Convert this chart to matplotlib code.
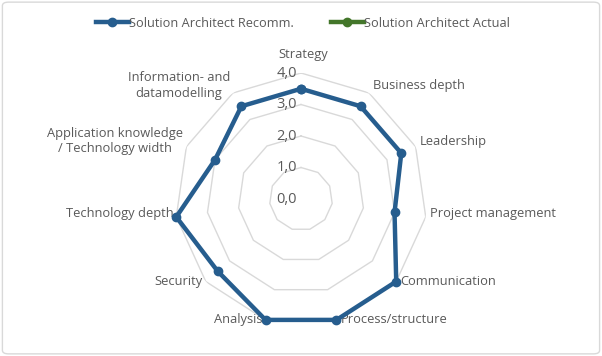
import numpy as np
import matplotlib
matplotlib.use("Agg")
import matplotlib.pyplot as plt
from matplotlib.patches import FancyBboxPatch

plt.rcParams['font.family'] = ['Open Sans', 'DejaVu Sans']

categories = ["Strategy", "Business depth", "Leadership", "Project management",
              "Communication", "Process/structure", "Analysis", "Security",
              "Technology depth", "Application knowledge\n/ Technology width",
              "Information- and\ndatamodelling"]
recomm = [3.5, 3.5, 3.5, 3.0, 4.0, 4.0, 4.0, 3.5, 4.0, 3.0, 3.5]
actual = []  # no values shown in the chart
ring_values = [0, 1, 2, 3, 4]
ring_labels = ["0,0", "1,0", "2,0", "3,0", "4,0"]

blue = "#265D8E"
green = "#43762A"
grey_text = "#595959"
grid_col = "#D9D9D9"

n = len(categories)
theta = np.arange(n) * 2 * np.pi / n
theta_c = np.append(theta, theta[0])

fig = plt.figure(figsize=(6.02, 3.56), dpi=100)
fig.patches.append(FancyBboxPatch((0.004, 0.006), 0.992, 0.988,
                                  boxstyle="round,pad=0,rounding_size=0.01",
                                  transform=fig.transFigure, fc="white",
                                  ec=grid_col, lw=1.0, zorder=-10))

ax = fig.add_axes([0.2907, 0.087, 0.4186, 0.708], projection='polar')
ax.set_theta_offset(np.pi / 2)
ax.set_theta_direction(-1)
ax.set_ylim(0, 4)
ax.grid(False)
ax.spines['polar'].set_visible(False)
ax.set_xticks([])
ax.set_yticks([])
ax.patch.set_alpha(0)

# polygon rings
for v in ring_values[1:]:
    ax.plot(theta_c, [v] * (n + 1), color=grid_col, lw=1.0, zorder=1)

# ring labels
for v, lab in zip(ring_values, ring_labels):
    ax.annotate(lab, xy=(0, v), xytext=(-4, 0), textcoords='offset pixels',
                ha='right', va='center', fontsize=10.5, color=grey_text)

# category labels at outer vertices
for t, lab in zip(theta, categories):
    s, c = np.sin(t), np.cos(t)
    if abs(s) < 0.1:
        ax.annotate(lab, xy=(t, 4), xytext=(2, 12), textcoords='offset pixels',
                    ha='center', va='bottom', fontsize=9.3, color=grey_text)
        continue
    dx = 4 if s > 0 else -3
    dy = 4 + 4 * c if c > -0.5 else 0
    ax.annotate(lab, xy=(t, 4), xytext=(dx, dy), textcoords='offset pixels',
                ha='left' if s > 0 else 'right', va='center',
                multialignment='center', fontsize=9.3, color=grey_text,
                linespacing=1.25)

ax.plot(theta_c, recomm + recomm[:1], color=blue, lw=3.2, marker='o',
        markersize=6, zorder=3, clip_on=False, label="Solution Architect Recomm.")
ax.plot(theta[:len(actual)], actual, color=green, lw=3.2, marker='o',
        markersize=6, zorder=3, label="Solution Architect Actual")

fig.legend(loc='center', bbox_to_anchor=(0.503, 0.935), ncol=2, frameon=False,
           fontsize=9.2, labelcolor=grey_text, handlelength=2.6,
           handletextpad=0.0, columnspacing=2.9)

fig.savefig("out.png", dpi=100)
